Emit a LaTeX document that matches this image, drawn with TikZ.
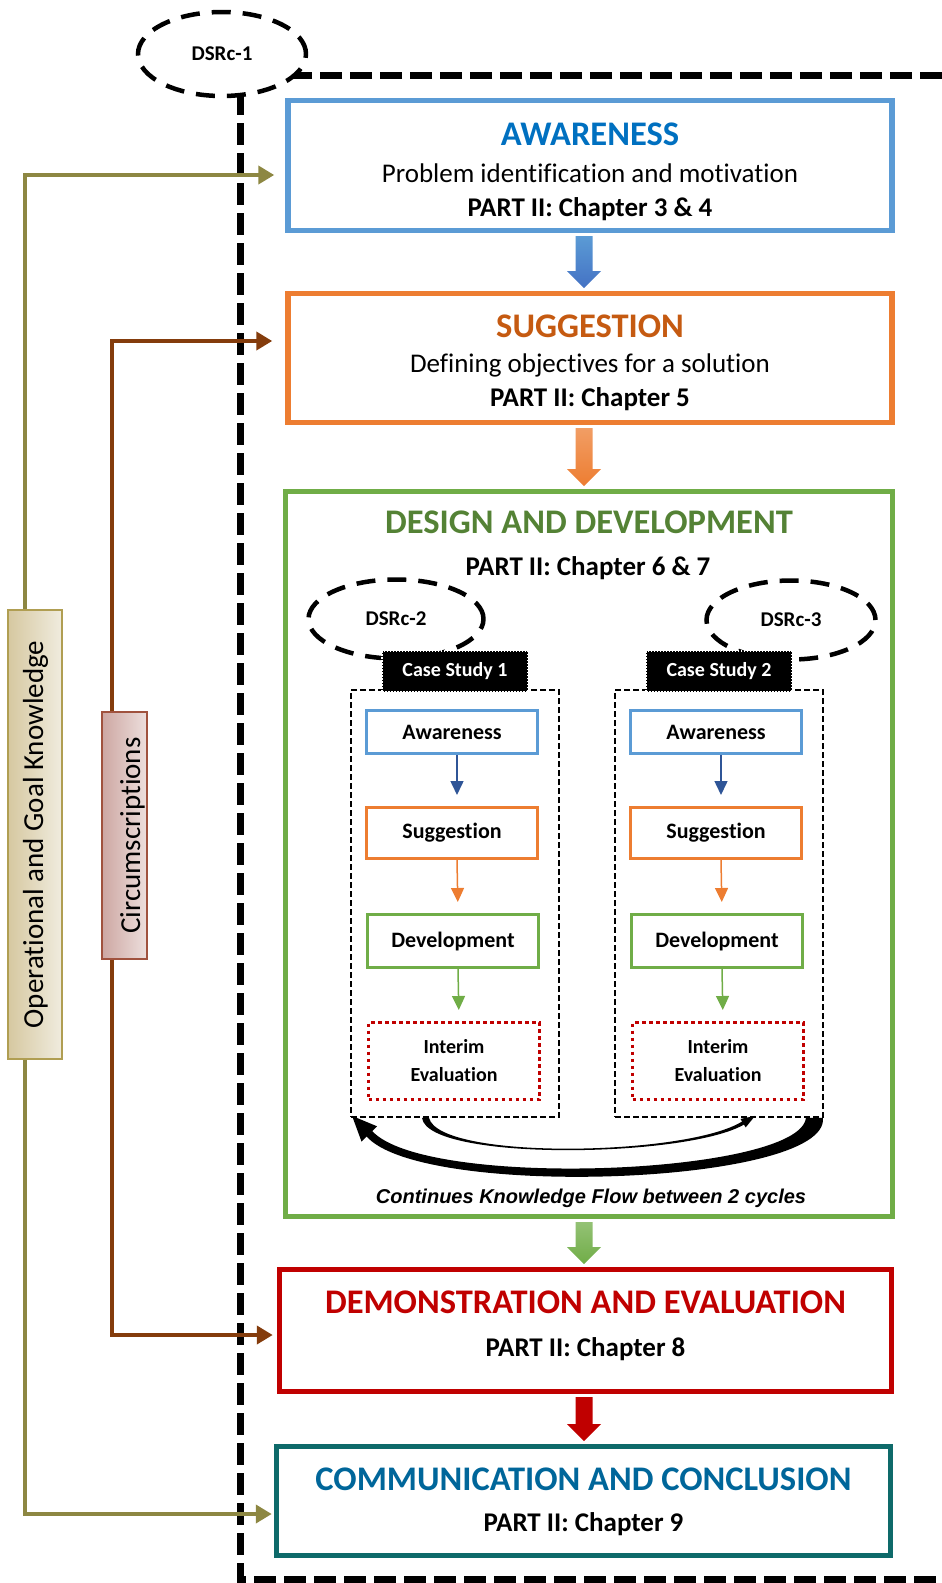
\documentclass[tikz,border=0pt]{standalone}
\usepackage{fontspec}
\setmainfont{Carlito}[Ligatures=NoCommon]
\newfontfamily\arialfont{Liberation Sans}
\usetikzlibrary{arrows.meta,calc,shapes.geometric}

\definecolor{awblue}{RGB}{91,155,213}
\definecolor{awdark}{RGB}{68,114,196}
\definecolor{awtitle}{RGB}{0,112,192}
\definecolor{sgorange}{RGB}{237,125,49}
\definecolor{sgtitle}{RGB}{197,90,17}
\definecolor{ddgreen}{RGB}{112,173,71}
\definecolor{ddtitle}{RGB}{84,130,53}
\definecolor{dered}{RGB}{192,0,0}
\definecolor{ccteal}{RGB}{14,106,106}
\definecolor{cctitle}{RGB}{0,102,154}
\definecolor{arblue}{RGB}{47,85,151}
\definecolor{okolive}{RGB}{141,135,66}
\definecolor{okborder}{RGB}{176,158,82}
\definecolor{oklight}{RGB}{240,236,223}
\definecolor{okdark}{RGB}{214,200,160}
\definecolor{cibrown}{RGB}{132,60,12}
\definecolor{ciborder}{RGB}{160,82,62}
\definecolor{cilight}{RGB}{237,223,221}
\definecolor{cidark}{RGB}{205,167,162}

\newcommand{\titlefont}{\fontsize{34.5}{38}\selectfont\bfseries}
% fat arrow between two phases: from, to, x shift, top colour, bottom colour
\newcommand{\phasearrow}[5]{%
  \coordinate (t) at ($(#1.south)+(#3,-2.75)$);
  \coordinate (h) at ($(#1.south |- #2.north)+(#3,2.75)$);
  \shade[top color=#4, bottom color=#5]
    ($(t)+(-8.5,0)$) -- ($(h)+(-8.5,17)$) -- ($(h)+(-17,17)$) -- (h)
    -- ($(h)+(17,17)$) -- ($(h)+(8.5,17)$) -- ($(t)+(8.5,0)$) -- cycle;}

\begin{document}
\begin{tikzpicture}[x=1pt,y=1pt,
    phase/.style={draw, line width=5.5pt, minimum width=604pt, inner sep=0pt},
    phasetext/.style={align=center, font=\fontsize{27}{34}\selectfont},
    dsrc/.style={ellipse, draw, fill=white, line width=4.5pt, dash pattern=on 19pt off 12pt, font=\fontsize{21}{24}\selectfont\bfseries},
    cyclebox/.style={draw, line width=1.8pt, dash pattern=on 6pt off 3pt, minimum width=208pt, minimum height=427pt},
    casebox/.style={fill=black, draw=white, line width=1.2pt, dash pattern=on 1.5pt off 1.5pt, text=white, minimum width=146pt, minimum height=41pt, font=\fontsize{20}{24}\selectfont\bfseries},
    stage/.style={draw, line width=3pt, minimum width=171pt, font=\fontsize{22}{26}\selectfont\bfseries},
    flow/.style={line width=1.5pt, -{Triangle[length=14pt,width=13pt]}, shorten >=11pt},
    know/.style={line width=4.5pt, -{Triangle[length=16pt,width=18pt]}},
    side/.style={rotate=90, draw, line width=1.5pt, font=\fontsize{29}{32}\selectfont}]
    \useasboundingbox (0,0) rectangle (942,-1583);

    %DSRc-1 frame
    \draw[line width=7pt, dash pattern=on 22pt off 8pt] (942,-75) -- (240,-75) -- (240,-1579) -- (942,-1579);
    \node[dsrc, minimum width=168pt, minimum height=84pt] (ds1) at (222,-54) {DSRc-1};

    %phases
    \node[phase, draw=awblue, minimum height=130pt] (aw) at (590,-165.5) {};
    \node[phase, draw=sgorange, minimum height=129pt] (sg) at (590,-358) {};
    \node[phase, draw=ddgreen, minimum width=607pt, minimum height=725pt] (dd) at (589,-854) {};
    \node[phase, draw=dered, minimum width=612pt, minimum height=122pt] (de) at (585.5,-1330.5) {};
    \node[phase, draw=ccteal, minimum width=614pt, minimum height=109pt] (cc) at (583.5,-1501) {};

    \node[phasetext] (awt) at ($(aw.center)+(0,-6.5)$) {{\titlefont\color{awtitle}AWARENESS}\\[3pt]
        Problem identification and motivation\\ \textbf{PART II: Chapter 3 \& 4}};
    \node[phasetext] (sgt) at ($(sg.center)+(0,-5)$) {{\titlefont\color{sgtitle}SUGGESTION}\\[1pt]
        Defining objectives for a solution\\ \textbf{PART II: Chapter 5}};
    \node[anchor=base, font=\titlefont, text=ddtitle] (ddt) at (589,-533) {DESIGN AND DEVELOPMENT};
    \node[anchor=base, font=\fontsize{27}{34}\selectfont\bfseries] (ddp) at (588,-575) {PART II: Chapter 6 \& 7};
    \node[phasetext] (det) at ($(de.center)+(0,4.5)$) {{\titlefont\color{dered}DEMONSTRATION AND EVALUATION}\\[9pt]
        \textbf{PART II: Chapter 8}};
    \node[phasetext] (cct) at ($(cc.center)+(0,-1)$) {{\titlefont\color{cctitle}COMMUNICATION AND CONCLUSION}\\[7pt]
        \textbf{PART II: Chapter 9}};

    \phasearrow{aw}{sg}{-6}{awblue}{awdark}
    \phasearrow{sg}{dd}{-6}{sgorange!75}{sgorange}
    \phasearrow{dd}{de}{-5}{ddgreen!75}{ddgreen}
    \phasearrow{de}{cc}{-1.5}{dered}{dered}

    %two inner cycles
    \node[dsrc, minimum width=175pt, minimum height=79pt] (ds2) at (396,-619) {DSRc-2};
    \node[dsrc, minimum width=169pt, minimum height=79pt] (ds3) at (791,-620) {DSRc-3};
    \foreach \i/\dx in {1/0, 2/264} {
        \node[cyclebox] (c\i) at (455+\dx,-903.5) {};
        \node[casebox] (cs\i) at (455+\dx,-671.5) {Case Study \i};
        \node[stage, draw=awblue, minimum height=43pt] (a\i) at (452+\dx,-732) {Awareness};
        \node[stage, draw=sgorange, minimum height=51pt] (s\i) at (452+\dx,-833) {Suggestion};
        \node[stage, draw=ddgreen, minimum height=53pt] (d\i) at (453+\dx,-941) {Development};
        \node[stage, draw=dered, dash pattern=on 3.5pt off 3.5pt, minimum height=77pt, align=center,
            font=\fontsize{20}{28}\selectfont\bfseries] (e\i) at (454+\dx,-1061) {Interim\\Evaluation};
        \draw[flow, arblue] ($(a\i.south)+(5,0)$) -- ($(s\i.north)+(5,0)$);
        \draw[flow, sgorange] ($(s\i.south)+(5,0)$) -- ($(d\i.north)+(5,0)$);
        \draw[flow, ddgreen] ($(d\i.south)+(5,0)$) -- ($(e\i.north)+(5,0)$);
    }

    %knowledge flow between the cycles
    \coordinate (L) at (c1.south west);
    \coordinate (R) at (c2.south east);
    \fill ($(c1.south)+(-33,0)$) .. controls ($(c1.south)+(-27,-44)$) and ($(c2.south)+(-29,-40)$) .. ($(c2.south)+(26,-6)$)
        -- ($(c2.south)+(24,-3)$) .. controls ($(c2.south)+(-29,-38)$) and ($(c1.south)+(-15,-43)$) .. ($(c1.south)+(-26,0)$) -- cycle;
    \fill ($(c2.south)+(36,2)$) -- ($(c2.south)+(21.5,-1)$) -- ($(c2.south)+(26.7,-9.5)$) -- cycle;
    \fill ($(R)+(-1,0)$) .. controls ($(R)+(6,-67)$) and ($(L)+(70,-82)$) .. ($(L)+(16,-18)$)
        -- ($(L)+(22,-13)$) .. controls ($(L)+(75,-72)$) and ($(R)+(-24,-57)$) .. ($(R)+(-18,0)$) -- cycle;
    \fill ($(L)+(2,2)$) -- ($(L)+(27,-8.4)$) -- ($(L)+(11.4,-23.6)$) -- cycle;
    \node[anchor=base, font=\arialfont\fontsize{20}{22}\selectfont\bfseries\itshape] (kf) at (591,-1203)
        {Continues Knowledge Flow between 2 cycles};

    %knowledge inputs on the left
    \node[side, draw=okborder, left color=okdark, right color=oklight, minimum width=449pt, minimum height=54pt,
        text height=20pt, text depth=4pt] (ogk) at (35,-834.5) {Operational and Goal Knowledge};
    \node[side, draw=ciborder, left color=cidark, right color=cilight, minimum width=247pt, minimum height=45pt,
        text height=31pt, text depth=0pt] (cir) at (124.5,-835.5) {Circumscriptions};
    \draw[know, okolive, shorten >=11pt] ($(ogk.east)+(-10,0)$) |- ($(aw.west)+(0,-9.5)$);
    \draw[know, okolive, shorten >=2pt] ($(ogk.west)+(-10,0)$) |- ($(cc.west)+(0,-13)$);
    \draw[know, cibrown, shorten >=13pt] ($(cir.east)+(-12.5,0)$) |- ($(sg.west)+(0,17)$);
    \draw[know, cibrown, shorten >=4pt] ($(cir.west)+(-12.5,0)$) |- ($(de.west)+(0,-4.5)$);
\end{tikzpicture}
\end{document}
